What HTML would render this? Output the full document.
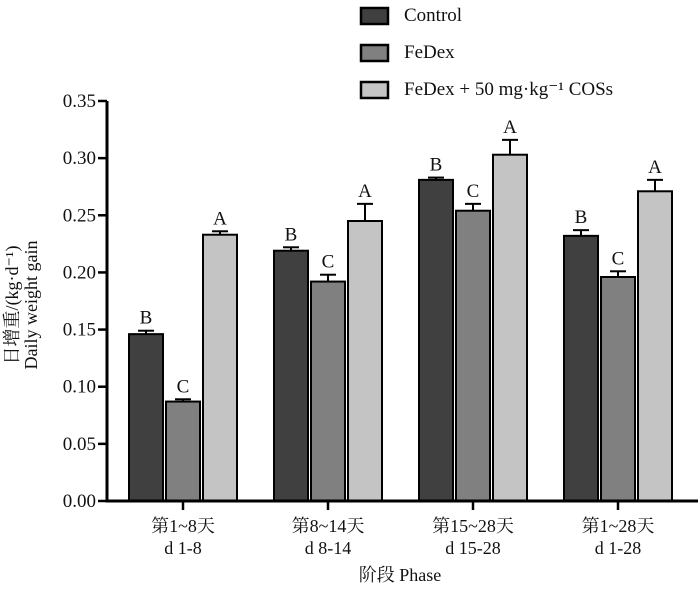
<!DOCTYPE html>
<html><head><meta charset="utf-8"><style>
body{margin:0;background:#fff}
text{font-family:"Liberation Serif","Noto Serif CJK SC",serif;fill:#111}
</style></head><body>
<svg id="c" width="700" height="586" xmlns="http://www.w3.org/2000/svg"></svg>
<script>
const categories1=["第1~8天","第8~14天","第15~28天","第1~28天"];
const categories2=["d 1-8","d 8-14","d 15-28","d 1-28"];
const seriesNames=["Control","FeDex","FeDex + 50 mg·kg⁻¹ COSs"];
const controlVals=[0.146,0.219,0.281,0.232];
const fedexVals=[0.087,0.192,0.254,0.196];
const cosVals=[0.233,0.245,0.303,0.271];
const controlErr=[0.003,0.003,0.002,0.005];
const fedexErr=[0.002,0.006,0.006,0.005];
const cosErr=[0.003,0.015,0.013,0.010];
const controlLetters=["B","B","B","B"];
const fedexLetters=["C","C","C","C"];
const cosLetters=["A","A","A","A"];
const yTicks=[0,0.05,0.10,0.15,0.20,0.25,0.30,0.35];

const svg=document.getElementById('c');
const NS="http://www.w3.org/2000/svg";
function el(t,a,txt){const e=document.createElementNS(NS,t);for(const k in a)e.setAttribute(k,a[k]);if(txt!==undefined)e.textContent=txt;svg.appendChild(e);return e;}
const y0=501,yTop=101,yMax=0.35;
const y=v=>y0-(v/yMax)*(y0-yTop);
const groupX=i=>183+i*145;
const barW=34,gap=3;
const colors=["#404040","#808080","#c4c4c4"];
const vals=[controlVals,fedexVals,cosVals],errs=[controlErr,fedexErr,cosErr],lets=[controlLetters,fedexLetters,cosLetters];
const names=["control","fedex","cos"];
for(let i=0;i<categories1.length;i++){
 for(let s=0;s<3;s++){
  const cx=groupX(i)+(s-1)*(barW+gap);
  const v=vals[s][i],e=errs[s][i];
  const r=el('rect',{x:cx-barW/2,y:y(v),width:barW,height:y0-y(v),fill:colors[s],stroke:'#000','stroke-width':2});
  
  
  const l=el('line',{x1:cx,x2:cx,y1:y(v),y2:y(v+e),stroke:'#000','stroke-width':2});
  
  
  const c=el('line',{x1:cx-8,x2:cx+8,y1:y(v+e),y2:y(v+e),stroke:'#000','stroke-width':2});
  
  
  const t=el('text',{x:cx,y:y(v+e)-7,'text-anchor':'middle','font-size':19},lets[s][i]);
  
  
 }
 const tk=el('line',{x1:groupX(i),x2:groupX(i),y1:y0,y2:y0+9,stroke:'#000','stroke-width':2.5});
 
 
 const a=el('text',{x:groupX(i),y:532,'text-anchor':'middle','font-size':18},categories1[i]);
 
 
 const b=el('text',{x:groupX(i),y:554,'text-anchor':'middle','font-size':18},categories2[i]);
 
 
}
for(const v of yTicks){
 const tk=el('line',{x1:98,x2:107,y1:y(v),y2:y(v),stroke:'#000','stroke-width':2.5});
 
 
 const t=el('text',{x:96,y:y(v)+6,'text-anchor':'end','font-size':19},v.toFixed(2));
 
 
}
const ya=el('line',{x1:107,x2:107,y1:yTop,y2:y0+1.5,stroke:'#000','stroke-width':3});


const xa=el('line',{x1:105.5,x2:698,y1:y0,y2:y0,stroke:'#000','stroke-width':3});


const yt=el('text',{transform:'translate(18,305) rotate(-90)','text-anchor':'middle','font-size':18},'日增重/(kg·d⁻¹)');


const yt2=el('text',{transform:'translate(37,305) rotate(-90)','text-anchor':'middle','font-size':18},'Daily weight gain');


const xt=el('text',{x:400,y:581,'text-anchor':'middle','font-size':18},'阶段  Phase');


for(let s=0;s<3;s++){
 const ly=8+s*37;
 const r=el('rect',{x:361,y:ly,width:27,height:16,fill:colors[s],stroke:'#000','stroke-width':2.5});
 
 
 const t=el('text',{x:404,y:ly+13,'font-size':19},seriesNames[s]);
 
 
}
</script>
</body></html>
